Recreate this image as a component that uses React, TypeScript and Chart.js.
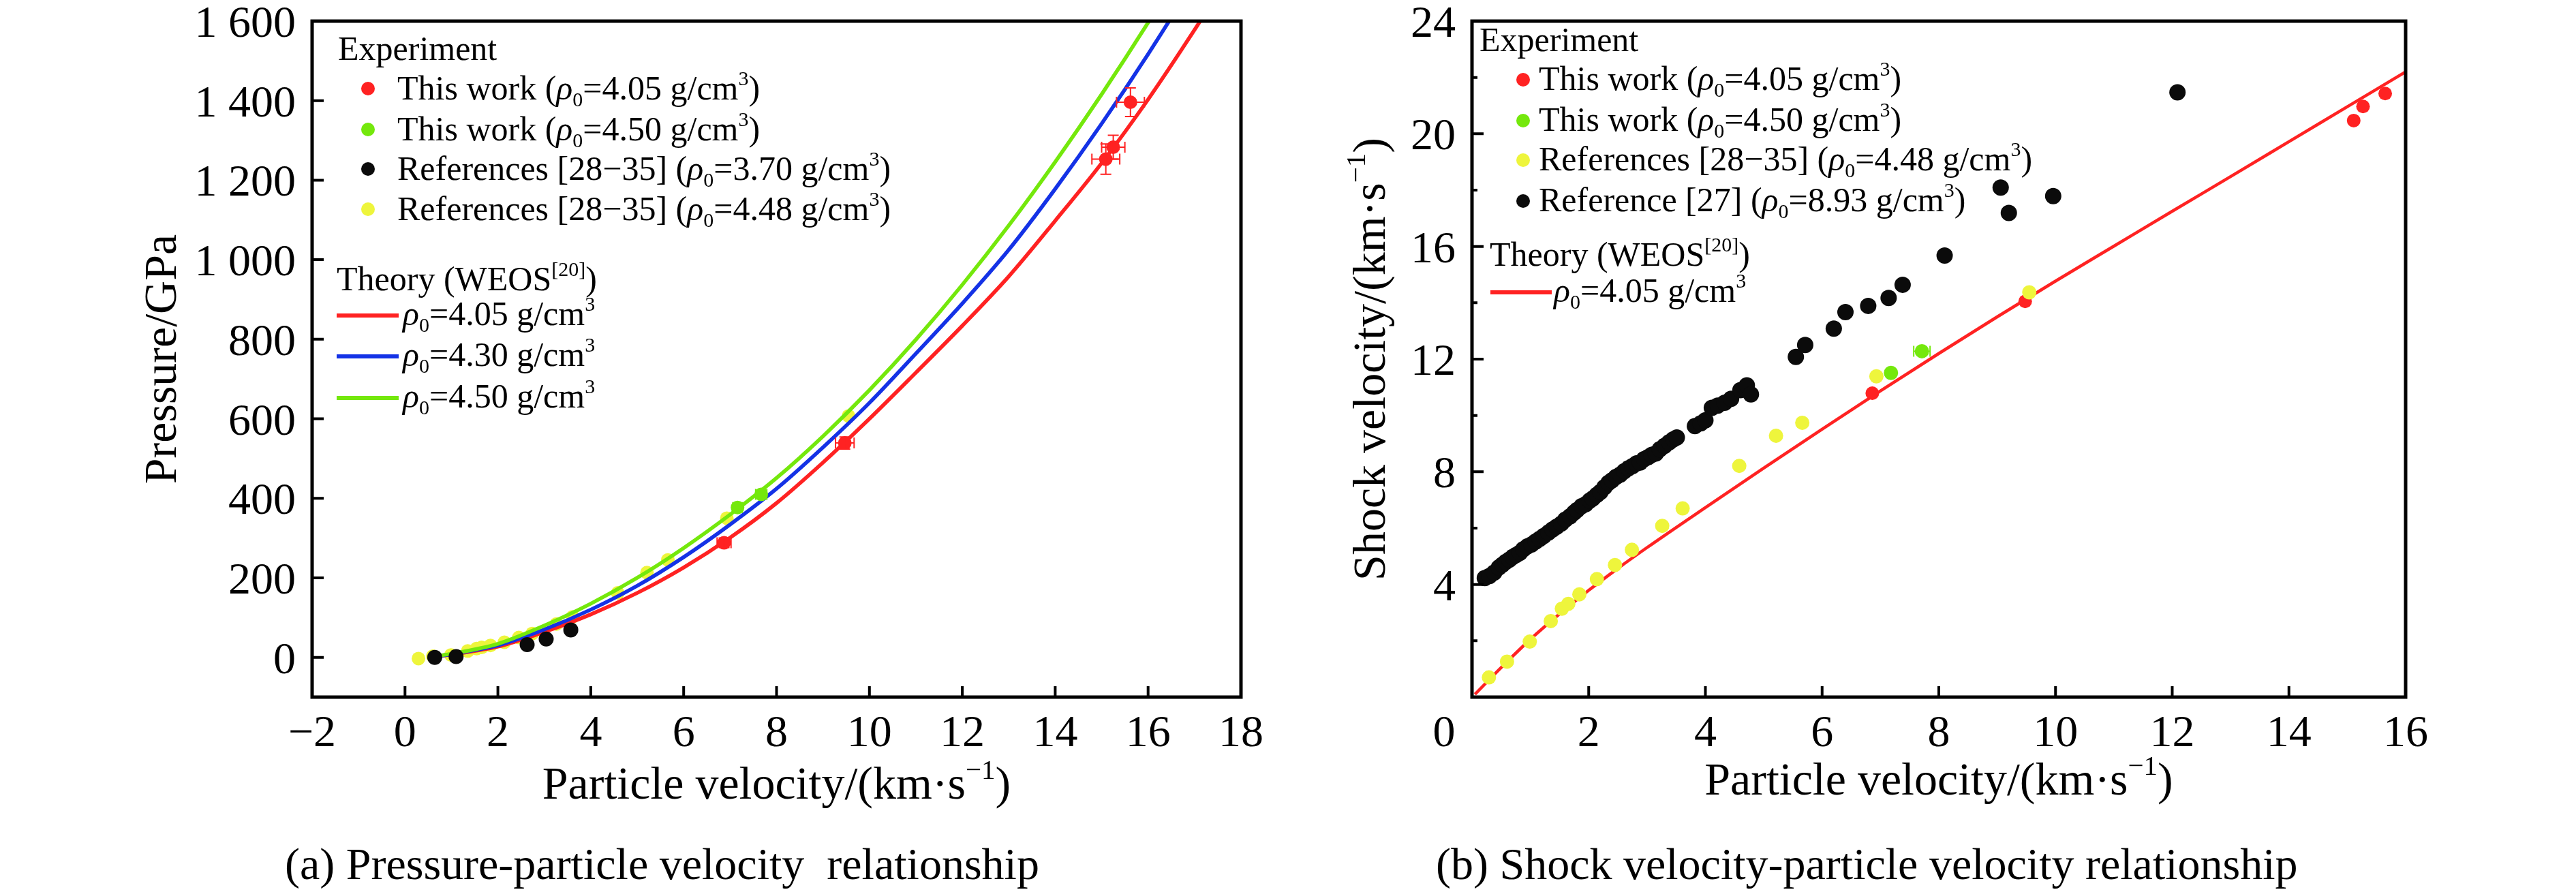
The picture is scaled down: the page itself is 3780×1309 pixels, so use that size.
import { useEffect, useRef } from 'react';
import { Chart, registerables } from 'chart.js';
import type { ChartConfiguration, Plugin } from 'chart.js';

Chart.register(...registerables);

const FONT = "'Liberation Serif', 'Times New Roman', Times, serif";

const RED = '#ff2222';
const BLUE = '#1432e6';
const GREEN = '#74e80c';
const YELLOW = '#eef53c';
const BLACK = '#0b0b0b';

// ---------- (a) pressure vs particle velocity ----------
const aXTicks = [-2, 0, 2, 4, 6, 8, 10, 12, 14, 16, 18];
const aYTicks = [0, 200, 400, 600, 800, 1000, 1200, 1400, 1600];

const aCurveUp = [0.5, 1, 1.5, 2, 3, 4, 5, 6, 7, 8, 9, 10, 11, 12, 13, 14, 15, 16, 17, 17.5];
const aTheory405 = [0, 7, 16, 27, 64, 108, 162, 226, 301, 388, 490, 600, 716, 834, 958, 1098, 1243, 1403, 1578, 1670];
const aTheory430 = [0, 8, 18, 30, 70, 120, 180, 252, 334, 424, 528, 640, 764, 890, 1025, 1178, 1342, 1517, 1703, 1800];
const aTheory450 = [0, 9, 20, 34, 80, 135, 200, 275, 359, 451, 556, 672, 799, 937, 1086, 1246, 1416, 1596, 1786, 1882];

const aRedUp = [6.87, 9.47, 15.09, 15.25, 15.62];
const aRedP = [288, 539, 1253, 1283, 1396];
const aRedUpErr = [0.15, 0.2, 0.3, 0.25, 0.3];
const aRedPErr = [12, 15, 38, 30, 36];

const aGreenUp = [7.16, 7.67];
const aGreenP = [377, 410];
const aGreenUpErr = [0.1, 0.12];
const aGreenPErr = [8, 8];

const aBlackUp = [0.64, 1.1, 2.63, 3.04, 3.57];
const aBlackP = [0, 2, 32, 46, 69];

const aYellowUp = [0.29, 0.6, 0.99, 1.35, 1.54, 1.65, 1.84, 2.14, 2.45, 2.74, 3.26, 3.61, 4.58, 5.21, 5.66, 6.93, 9.55];
const aYellowP = [-3, 3, 6, 16, 22, 25, 30, 38, 50, 60, 84, 102, 162, 213, 245, 350, 607];

// ---------- (b) shock velocity vs particle velocity ----------
const bXTicks = [0, 2, 4, 6, 8, 10, 12, 14, 16];
const bYTicks = [4, 8, 12, 16, 20, 24];
const bYMinor = [2, 6, 10, 14, 18, 22];

const bTheoryUp = [0.05, 0.5, 1, 1.5, 2, 2.5, 3, 4, 5, 6, 7, 8, 9, 10, 11, 12, 13, 14, 15, 16];
const bTheoryUs = [0.1, 1.05, 2.05, 2.95, 3.79, 4.57, 5.31, 6.73, 8.13, 9.51, 10.87, 12.2, 13.5, 14.77, 16.01, 17.25, 18.48, 19.72, 20.96, 22.2];

const bRedUp = [6.86, 9.48, 15.11, 15.27, 15.65];
const bRedUs = [10.79, 14.05, 20.47, 20.97, 21.43];

const bGreenUp = [7.18, 7.71];
const bGreenUs = [11.51, 12.28];
const bGreenUpErr = [0, 0.14];

const bYellowUp = [0.29, 0.6, 0.99, 1.35, 1.54, 1.65, 1.84, 2.14, 2.45, 2.74, 3.26, 3.61, 4.58, 5.21, 5.66, 6.93, 9.55];
const bYellowUs = [0.7, 1.26, 1.97, 2.7, 3.14, 3.31, 3.65, 4.19, 4.69, 5.23, 6.08, 6.7, 8.21, 9.28, 9.74, 11.39, 14.37];

const bBlackUp = [
  0.22, 0.3, 0.38, 0.46, 0.52, 0.58, 0.64, 0.7, 0.76, 0.82, 0.88, 0.95, 1.02, 1.09, 1.16, 1.23,
  1.31, 1.38, 1.45, 1.53, 1.6, 1.68, 1.75, 1.8, 1.88, 1.95, 2.02, 2.07, 2.14, 2.2, 2.27, 2.34,
  2.4, 2.47, 2.54, 2.61, 2.68, 2.75, 2.82, 2.88, 2.95, 3.02, 3.08, 3.15, 3.22, 3.3, 3.38, 3.45,
  3.51, 3.82, 3.92, 4.0, 4.11, 4.21, 4.33, 4.44, 4.6, 4.71, 4.78, 5.55, 5.71, 6.2, 6.4, 6.79,
  7.14, 7.38, 8.1, 9.06, 9.2, 9.96, 12.09,
];
const bBlackUs = [
  4.23, 4.3, 4.42, 4.6, 4.7, 4.8, 4.88, 4.98, 5.05, 5.12, 5.25, 5.35, 5.42, 5.52, 5.62, 5.72,
  5.84, 5.95, 6.05, 6.16, 6.3, 6.42, 6.55, 6.64, 6.78, 6.85, 6.98, 7.05, 7.18, 7.28, 7.45, 7.61,
  7.7, 7.82, 7.9, 8.02, 8.12, 8.2, 8.3, 8.33, 8.45, 8.52, 8.6, 8.65, 8.8, 8.92, 9.05, 9.15,
  9.22, 9.62, 9.72, 9.83, 10.27, 10.35, 10.45, 10.59, 10.9, 11.07, 10.75, 12.08, 12.5, 13.08, 13.67, 13.89,
  14.17, 14.64, 15.68, 18.09, 17.19, 17.79, 21.47,
];

// ---------- text helpers ----------
type Seg = { t: string; k?: 'sub' | 'sup'; it?: boolean };

function parseRich(s: string): Seg[] {
  const raw: Seg[] = [];
  const re = /([_^])\{([^}]*)\}/g;
  let last = 0;
  let m: RegExpExecArray | null;
  while ((m = re.exec(s))) {
    if (m.index > last) raw.push({ t: s.slice(last, m.index) });
    raw.push({ t: m[2], k: m[1] === '^' ? 'sup' : 'sub' });
    last = re.lastIndex;
  }
  if (last < s.length) raw.push({ t: s.slice(last) });
  const out: Seg[] = [];
  raw.forEach(seg => seg.t.split(/(ρ)/).forEach(p => { if (p) out.push({ t: p, k: seg.k, it: p === 'ρ' }); }));
  return out;
}

function drawRich(ctx: CanvasRenderingContext2D, s: string, x: number, y: number, size: number, align: 'left' | 'center' = 'left') {
  const segs = parseRich(s);
  const fontOf = (p: Seg) => `${p.it ? 'italic ' : ''}${p.k ? Math.round(size * 0.6) : size}px ${FONT}`;
  const widths = segs.map(p => { ctx.font = fontOf(p); return ctx.measureText(p.t).width; });
  const total = widths.reduce((a, b) => a + b, 0);
  let cx = align === 'center' ? x - total / 2 : x;
  ctx.textAlign = 'left';
  ctx.textBaseline = 'alphabetic';
  segs.forEach((p, i) => {
    ctx.font = fontOf(p);
    const dy = p.k === 'sub' ? size * 0.2 : p.k === 'sup' ? -size * 0.42 : 0;
    ctx.fillText(p.t, cx, y + dy);
    cx += widths[i];
  });
}

// ---------- decoration (frame, inward ticks, labels, legend, caption) ----------
interface LegendDef {
  heads: { text: string; x: number; y: number }[];
  dotX: number; dotTextX: number; dotOff: number; dotR: number;
  dots: { text: string; color: string; cy: number }[];
  lineX0: number; lineX1: number; lineTextX: number; lineOff: number;
  lines: { text: string; color: string; cy: number }[];
}

interface Decor {
  xTicks: number[]; yTicks: number[]; yMinor: number[];
  fmtX: (v: number) => string; fmtY: (v: number) => string;
  xLabelShift: (v: number) => number;
  xTitle: string; yTitle: string; xTitleBase: number; yTitleBase: number;
  caption: string; captionX: number; captionBase: number;
  legend: LegendDef;
}

const TICK_FONT = 66;
const TITLE_FONT = 68;
const LEGEND_FONT = 50;

function decorPlugin(d: Decor): Plugin<'scatter'> {
  return {
    id: 'decor',
    afterDatasetsDraw(chart) {
      const ctx = chart.ctx;
      const xs = chart.scales.x;
      const ys = chart.scales.y;
      ctx.save();
      chart.data.datasets.forEach((ds: any) => {
        if (!ds.errX && !ds.errY) return;
        ctx.strokeStyle = ds.backgroundColor;
        ctx.lineWidth = 2;
        (ds.data as { x: number; y: number }[]).forEach((p, i) => {
          const px = xs.getPixelForValue(p.x);
          const py = ys.getPixelForValue(p.y);
          const ex = ds.errX ? ds.errX[i] : 0;
          const ey = ds.errY ? ds.errY[i] : 0;
          ctx.beginPath();
          if (ex) {
            const x0 = xs.getPixelForValue(p.x - ex);
            const x1 = xs.getPixelForValue(p.x + ex);
            ctx.moveTo(x0, py); ctx.lineTo(x1, py);
            ctx.moveTo(x0, py - 8); ctx.lineTo(x0, py + 8);
            ctx.moveTo(x1, py - 8); ctx.lineTo(x1, py + 8);
          }
          if (ey) {
            const y0 = ys.getPixelForValue(p.y - ey);
            const y1 = ys.getPixelForValue(p.y + ey);
            ctx.moveTo(px, y0); ctx.lineTo(px, y1);
            ctx.moveTo(px - 8, y0); ctx.lineTo(px + 8, y0);
            ctx.moveTo(px - 8, y1); ctx.lineTo(px + 8, y1);
          }
          ctx.stroke();
        });
      });
      ctx.restore();
    },
    afterDraw(chart) {
      const ctx = chart.ctx;
      const { left, right, top, bottom } = chart.chartArea;
      const xs = chart.scales.x;
      const ys = chart.scales.y;
      ctx.save();
      ctx.fillStyle = '#000';
      ctx.strokeStyle = '#000';

      // inward ticks
      ctx.lineWidth = 4;
      ctx.beginPath();
      d.xTicks.forEach(v => { const px = xs.getPixelForValue(v); ctx.moveTo(px, bottom); ctx.lineTo(px, bottom - 16); });
      d.yTicks.forEach(v => { const py = ys.getPixelForValue(v); ctx.moveTo(left, py); ctx.lineTo(left + 17, py); });
      d.yMinor.forEach(v => { const py = ys.getPixelForValue(v); ctx.moveTo(left, py); ctx.lineTo(left + 8, py); });
      ctx.stroke();

      // frame
      ctx.lineWidth = 5;
      ctx.strokeRect(left, top, right - left, bottom - top);

      // tick labels
      ctx.font = `${TICK_FONT}px ${FONT}`;
      ctx.textBaseline = 'alphabetic';
      ctx.textAlign = 'center';
      d.xTicks.forEach(v => ctx.fillText(d.fmtX(v), xs.getPixelForValue(v) + d.xLabelShift(v), bottom + 72));
      ctx.textAlign = 'right';
      d.yTicks.forEach(v => ctx.fillText(d.fmtY(v), left - 24, ys.getPixelForValue(v) + 23));

      // axis titles
      drawRich(ctx, d.xTitle, (left + right) / 2, d.xTitleBase, TITLE_FONT, 'center');
      ctx.save();
      ctx.translate(d.yTitleBase, (top + bottom) / 2);
      ctx.rotate(-Math.PI / 2);
      drawRich(ctx, d.yTitle, 0, 0, TITLE_FONT, 'center');
      ctx.restore();

      // legend
      const L = d.legend;
      ctx.fillStyle = '#000';
      L.heads.forEach(h => drawRich(ctx, h.text, left + h.x, top + h.y, LEGEND_FONT));
      L.dots.forEach(it => {
        ctx.fillStyle = it.color;
        ctx.beginPath();
        ctx.arc(left + L.dotX, top + it.cy, L.dotR, 0, Math.PI * 2);
        ctx.fill();
        ctx.fillStyle = '#000';
        drawRich(ctx, it.text, left + L.dotTextX, top + it.cy + L.dotOff, LEGEND_FONT);
      });
      L.lines.forEach(it => {
        ctx.strokeStyle = it.color;
        ctx.lineWidth = 6;
        ctx.beginPath();
        ctx.moveTo(left + L.lineX0, top + it.cy);
        ctx.lineTo(left + L.lineX1, top + it.cy);
        ctx.stroke();
        ctx.fillStyle = '#000';
        drawRich(ctx, it.text, left + L.lineTextX, top + it.cy + L.lineOff, LEGEND_FONT);
      });

      // caption
      ctx.fillStyle = '#000';
      drawRich(ctx, d.caption, d.captionX, d.captionBase, 66);
      ctx.restore();
    },
  };
}

// ---------- chart builders ----------
const pts = (xs: number[], ys: number[]) => xs.map((x, i) => ({ x, y: ys[i] }));

function axis(min: number, max: number, size: number, horizontal: boolean) {
  return {
    type: 'linear' as const,
    min,
    max,
    ticks: { display: false },
    grid: { display: false },
    border: { display: false },
    afterFit: (s: any) => {
      if (horizontal) { s.height = size; s.paddingLeft = 0; s.paddingRight = 0; }
      else { s.width = size; s.paddingTop = 0; s.paddingBottom = 0; }
    },
  };
}

const dots = (label: string, data: { x: number; y: number }[], color: string, r: number, order: number, extra: object = {}) => ({
  label, data, order,
  backgroundColor: color,
  pointBackgroundColor: color,
  pointBorderWidth: 0,
  pointRadius: r,
  pointHoverRadius: r,
  showLine: false,
  ...extra,
});

const curve = (label: string, data: { x: number; y: number }[], color: string, w: number, order: number) => ({
  label, data, order,
  borderColor: color,
  backgroundColor: color,
  borderWidth: w,
  pointRadius: 0,
  pointHoverRadius: 0,
  showLine: true,
  cubicInterpolationMode: 'monotone' as const,
});

const fmtThousands = (v: number) => (v >= 1000 ? `${Math.floor(v / 1000)} ${String(v % 1000).padStart(3, '0')}` : String(v));
const fmtSigned = (v: number) => (v < 0 ? `\u2212${Math.abs(v)}` : String(v));

function buildA(): ChartConfiguration<'scatter'> {
  const decor: Decor = {
    xTicks: aXTicks, yTicks: aYTicks, yMinor: [],
    fmtX: fmtSigned, fmtY: fmtThousands, xLabelShift: () => 0,
    xTitle: 'Particle velocity/(km·s^{\u22121})', yTitle: 'Pressure/GPa',
    xTitleBase: 1172, yTitleBase: 258,
    caption: '(a) Pressure-particle velocity  relationship', captionX: 418, captionBase: 1290,
    legend: {
      heads: [{ text: 'Experiment', x: 38, y: 57 }, { text: 'Theory (WEOS^{[20]})', x: 36, y: 395 }],
      dotX: 82, dotTextX: 125, dotOff: 16, dotR: 10,
      dots: [
        { text: 'This work (ρ_{0}=4.05 g/cm^{3})', color: RED, cy: 99 },
        { text: 'This work (ρ_{0}=4.50 g/cm^{3})', color: GREEN, cy: 159 },
        { text: 'References [28\u221235] (ρ_{0}=3.70 g/cm^{3})', color: BLACK, cy: 217 },
        { text: 'References [28\u221235] (ρ_{0}=4.48 g/cm^{3})', color: YELLOW, cy: 276 },
      ],
      lineX0: 36, lineX1: 127, lineTextX: 133, lineOff: 14,
      lines: [
        { text: 'ρ_{0}=4.05 g/cm^{3}', color: RED, cy: 432 },
        { text: 'ρ_{0}=4.30 g/cm^{3}', color: BLUE, cy: 492 },
        { text: 'ρ_{0}=4.50 g/cm^{3}', color: GREEN, cy: 553 },
      ],
    },
  };
  return {
    type: 'scatter',
    data: {
      datasets: [
        dots('This work 4.05', pts(aRedUp, aRedP), RED, 10, 1, { errX: aRedUpErr, errY: aRedPErr }),
        dots('This work 4.50', pts(aGreenUp, aGreenP), GREEN, 10, 0, { errX: aGreenUpErr, errY: aGreenPErr }),
        dots('References 3.70', pts(aBlackUp, aBlackP), BLACK, 11, 2),
        dots('References 4.48', pts(aYellowUp, aYellowP), YELLOW, 10, 6),
        curve('WEOS 4.05', pts(aCurveUp, aTheory405), RED, 5.5, 5),
        curve('WEOS 4.30', pts(aCurveUp, aTheory430), BLUE, 5.5, 4),
        curve('WEOS 4.50', pts(aCurveUp, aTheory450), GREEN, 5.5, 3),
      ] as any,
    },
    options: {
      animation: false,
      responsive: false,
      devicePixelRatio: 1,
      layout: { padding: { left: 0, top: 31, right: 69, bottom: 0 } },
      plugins: { legend: { display: false }, tooltip: { enabled: false } },
      scales: {
        x: axis(-2, 18, 286, true),
        y: axis(-100, 1600, 458, false),
      } as any,
    },
    plugins: [decorPlugin(decor)],
  };
}

function buildB(): ChartConfiguration<'scatter'> {
  const decor: Decor = {
    xTicks: bXTicks, yTicks: bYTicks, yMinor: bYMinor,
    fmtX: String, fmtY: String, xLabelShift: v => (v === 0 ? -41 : 0),
    xTitle: 'Particle velocity/(km·s^{\u22121})', yTitle: 'Shock velocity/(km·s^{\u22121})',
    xTitleBase: 1166, yTitleBase: 142,
    caption: '(b) Shock velocity-particle velocity relationship', captionX: 217, captionBase: 1290,
    legend: {
      heads: [{ text: 'Experiment', x: 11, y: 44 }, { text: 'Theory (WEOS^{[20]})', x: 26, y: 359 }],
      dotX: 75, dotTextX: 98, dotOff: 15, dotR: 10,
      dots: [
        { text: 'This work (ρ_{0}=4.05 g/cm^{3})', color: RED, cy: 86 },
        { text: 'This work (ρ_{0}=4.50 g/cm^{3})', color: GREEN, cy: 146 },
        { text: 'References [28\u221235] (ρ_{0}=4.48 g/cm^{3})', color: YELLOW, cy: 204 },
        { text: 'Reference [27] (ρ_{0}=8.93 g/cm^{3})', color: BLACK, cy: 264 },
      ],
      lineX0: 27, lineX1: 117, lineTextX: 120, lineOff: 14,
      lines: [{ text: 'ρ_{0}=4.05 g/cm^{3}', color: RED, cy: 398 }],
    },
  };
  return {
    type: 'scatter',
    data: {
      datasets: [
        dots('Reference 8.93', pts(bBlackUp, bBlackUs), BLACK, 12, 0),
        dots('References 4.48', pts(bYellowUp, bYellowUs), YELLOW, 10.5, 1),
        dots('This work 4.50', pts(bGreenUp, bGreenUs), GREEN, 10.5, 2, { errX: bGreenUpErr }),
        dots('This work 4.05', pts(bRedUp, bRedUs), RED, 10, 3),
        curve('WEOS 4.05', pts(bTheoryUp, bTheoryUs), RED, 4.5, 4),
      ] as any,
    },
    options: {
      animation: false,
      responsive: false,
      devicePixelRatio: 1,
      layout: { padding: { left: 0, top: 31, right: 250, bottom: 0 } },
      plugins: { legend: { display: false }, tooltip: { enabled: false } },
      scales: {
        x: axis(0, 16, 286, true),
        y: axis(0, 24, 270, false),
      } as any,
    },
    plugins: [decorPlugin(decor)],
  };
}

function Panel({ left, width, height, build }: { left: number; width: number; height: number; build: () => ChartConfiguration<'scatter'> }) {
  const ref = useRef<HTMLCanvasElement>(null);
  useEffect(() => {
    if (!ref.current) return;
    const chart = new Chart(ref.current, build());
    return () => chart.destroy();
  }, [build]);
  return (
    <canvas
      ref={ref}
      width={width}
      height={height}
      style={{ position: 'absolute', left, top: 0, width, height }}
    />
  );
}

export default function App() {
  return (
    <div style={{ position: 'absolute', left: 0, top: 0, width: 3780, height: 1309, background: '#fff', overflow: 'hidden' }}>
      <Panel left={0} width={1890} height={1309} build={buildA} />
      <Panel left={1890} width={1890} height={1309} build={buildB} />
    </div>
  );
}
